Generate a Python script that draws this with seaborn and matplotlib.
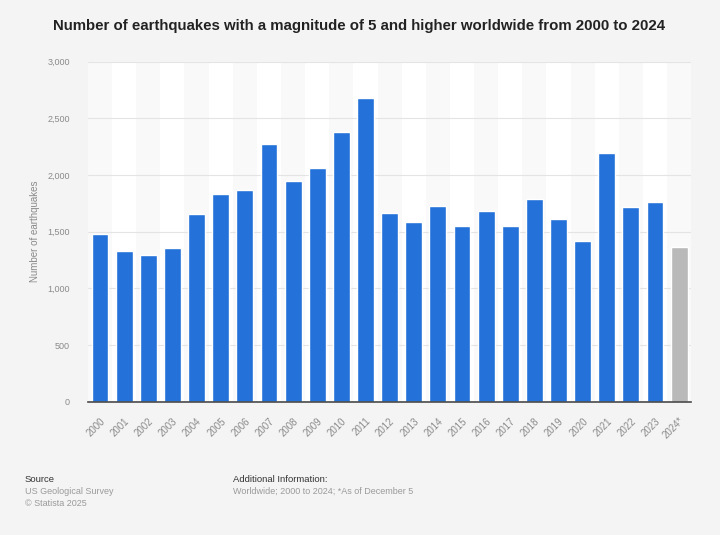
import matplotlib
matplotlib.use("Agg")
import matplotlib.pyplot as plt
import seaborn as sns
import pandas as pd

years = ["2000", "2001", "2002", "2003", "2004", "2005", "2006", "2007", "2008",
         "2009", "2010", "2011", "2012", "2013", "2014", "2015", "2016", "2017",
         "2018", "2019", "2020", "2021", "2022", "2023", "2024*"]
counts = [1480, 1333, 1294, 1353, 1656, 1833, 1868, 2271, 1950,
          2059, 2382, 2682, 1662, 1588, 1727, 1550, 1683, 1550,
          1791, 1612, 1421, 2197, 1718, 1765, 1362]
yticks = [0, 500, 1000, 1500, 2000, 2500, 3000]

title = "Number of earthquakes with a magnitude of 5 and higher worldwide from 2000 to 2024"
ylabel = "Number of earthquakes"

sns.set_theme(style="white")
plt.rcParams['font.family'] = ['Liberation Sans', 'DejaVu Sans']

BLUE = "#2371d9"
GREY = "#b9b9b9"
palette = [BLUE] * (len(years) - 1) + [GREY]

df = pd.DataFrame({"year": years, "count": counts})

fig = plt.figure(figsize=(7.2, 5.35), dpi=100)
fig.patch.set_facecolor("#f4f4f4")
ax = fig.add_axes([0.1222, 0.249, 0.8378, 0.6357])
ax.set_facecolor("#f4f4f4")

# alternating column bands
for i in range(len(years)):
    ax.axvspan(i - 0.5, i + 0.5, color="#ffffff" if i % 2 else "#f9f9f9", zorder=0, lw=0)

sns.barplot(data=df, x="year", y="count", hue="year", palette=palette,
            legend=False, width=0.7, ax=ax, zorder=3, saturation=1)

ax.set_xlim(-0.5, len(years) - 0.5)
ax.set_ylim(0, 3000)
ax.set_yticks(yticks)
ax.set_yticklabels([f"{v:,}" for v in yticks], fontsize=6.5, color="#8a8a8a")
ax.yaxis.grid(True, color="#e4e4e4", lw=0.8, zorder=1)
ax.set_axisbelow(True)
ax.tick_params(axis="y", length=0, pad=13)
ax.tick_params(axis="x", length=0, pad=10)
for lab in ax.get_xticklabels():
    lab.set_rotation(45)
    lab.set_ha("right")
    lab.set_rotation_mode("anchor")
    lab.set_fontsize(7)
    lab.set_color("#8a8a8a")

for s in ["top", "right", "left"]:
    ax.spines[s].set_visible(False)
ax.spines["bottom"].set_color("#4a4a4a")
ax.spines["bottom"].set_linewidth(1.2)
ax.spines["bottom"].set_zorder(5)

ax.set_xlabel("")
ax.set_ylabel(ylabel, fontsize=7, color="#8a8a8a", labelpad=5)

fig.text(359.5 / 720, 1 - 26 / 535, title, ha="center", va="center",
         fontsize=10.8, fontweight="bold", color="#222222")

fig.text(25 / 720, 1 - 479 / 535, "Source", fontsize=6.8, color="#333333", va="center")
fig.text(25 / 720, 1 - 491 / 535, "US Geological Survey", fontsize=6.5, color="#9a9a9a", va="center")
fig.text(25 / 720, 1 - 503 / 535, "© Statista 2025", fontsize=6.5, color="#9a9a9a", va="center")
fig.text(233 / 720, 1 - 479 / 535, "Additional Information:", fontsize=6.8, color="#333333", va="center")
fig.text(233 / 720, 1 - 491 / 535, "Worldwide; 2000 to 2024; *As of December 5", fontsize=6.5,
         color="#9a9a9a", va="center")

fig.savefig("out.png", dpi=100, facecolor=fig.get_facecolor())
